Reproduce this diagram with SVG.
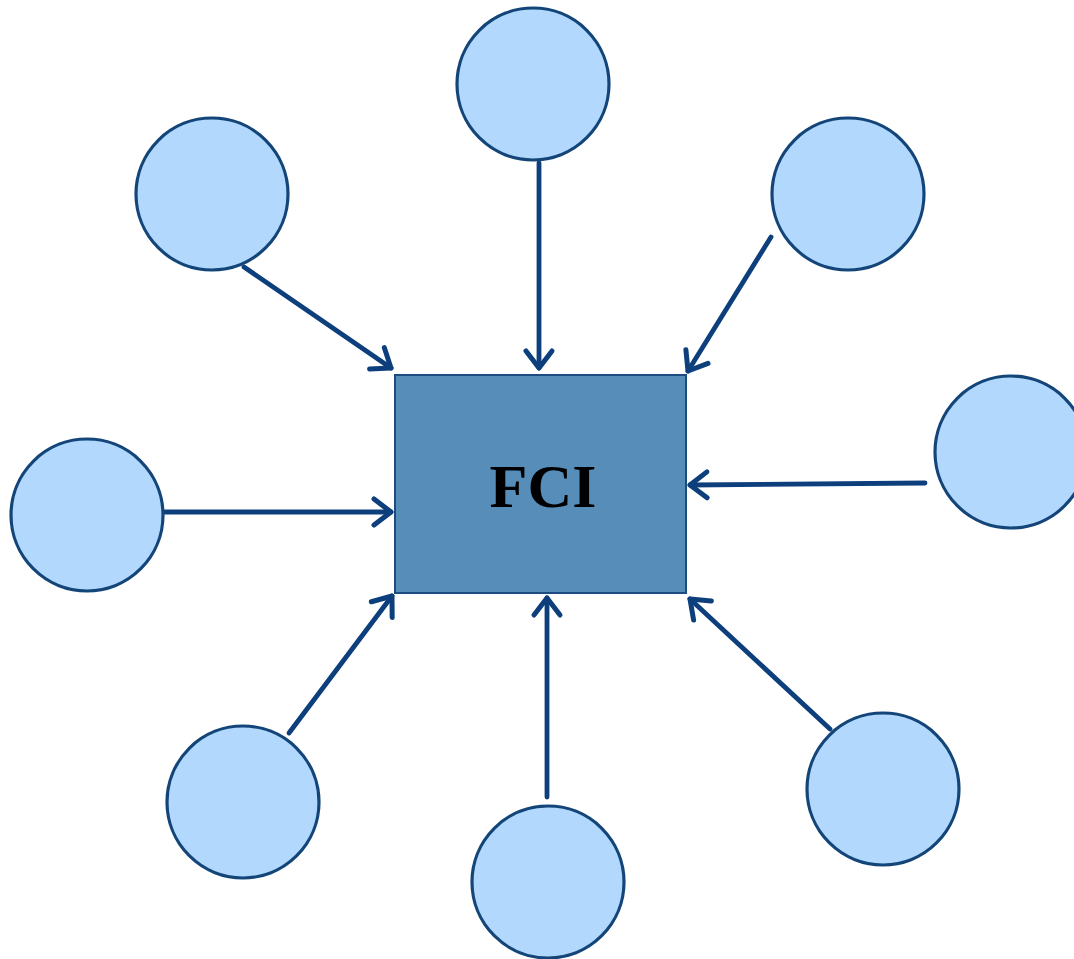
<svg xmlns="http://www.w3.org/2000/svg" width="1074" height="959" viewBox="0 0 1074 959">
  <style>
    .sat { fill: #b2d9fd; stroke: #134579; stroke-width: 3.2; }
    .hub { fill: #568eb9; stroke: #1d4d80; stroke-width: 2; }
    .link { fill: none; stroke: #0d3f7c; stroke-width: 4.8; stroke-linecap: round; marker-end: url(#head); }
    .label { font-family: "Liberation Serif", "Times New Roman", serif; font-weight: bold; font-size: 62px; fill: #000; }
  </style>
  <defs>
    <marker id="head" markerUnits="userSpaceOnUse" markerWidth="40" markerHeight="40" viewBox="-30 -20 40 40" refX="0" refY="0" orient="auto">
      <path d="M -17 -13 L 0 0 L -17 13" fill="none" stroke="#0d3f7c" stroke-width="5" stroke-linecap="round" stroke-linejoin="round"/>
    </marker>
  </defs>
  <rect width="1074" height="959" fill="#ffffff"/>

  <g id="connectors">
    <line class="link" x1="539" y1="163" x2="539" y2="368"/>
    <line class="link" x1="244" y1="267" x2="391" y2="368"/>
    <line class="link" x1="771" y1="237" x2="688" y2="371"/>
    <line class="link" x1="925" y1="483" x2="690" y2="485"/>
    <line class="link" x1="165" y1="512" x2="391" y2="512"/>
    <line class="link" x1="289" y1="733" x2="392" y2="596"/>
    <line class="link" x1="547" y1="797" x2="547" y2="598"/>
    <line class="link" x1="830" y1="729" x2="690" y2="599"/>
  </g>

  <g id="fci">
    <rect class="hub" x="395" y="375" width="291" height="218"/>
    <text class="label" x="543" y="507" text-anchor="middle">FCI</text>
  </g>

  <g id="node-top"><circle class="sat" cx="533" cy="84" r="76"/></g>
  <g id="node-top-left"><circle class="sat" cx="212" cy="194" r="76"/></g>
  <g id="node-top-right"><circle class="sat" cx="848" cy="194" r="76"/></g>
  <g id="node-right"><circle class="sat" cx="1011" cy="452" r="76"/></g>
  <g id="node-left"><circle class="sat" cx="87" cy="515" r="76"/></g>
  <g id="node-bottom-left"><circle class="sat" cx="243" cy="802" r="76"/></g>
  <g id="node-bottom"><circle class="sat" cx="548" cy="882" r="76"/></g>
  <g id="node-bottom-right"><circle class="sat" cx="883" cy="789" r="76"/></g>
</svg>
